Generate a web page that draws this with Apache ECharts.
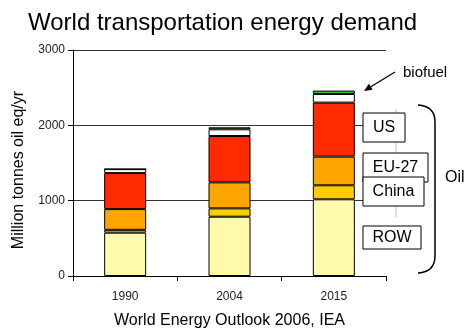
<!DOCTYPE html>
<html>
<head>
<meta charset="utf-8">
<script src="https://cdn.jsdelivr.net/npm/echarts@6/dist/echarts.min.js"></script>
<style>
  html, body { margin: 0; padding: 0; background: #fff; }
  #chart { width: 464px; height: 329px; }
</style>
</head>
<body>
<div id="chart"></div>
<script>
  // data (Mtoe)
  var years = ['1990', '2004', '2015']
  var row = [575, 787, 1018]
  var china = [38, 111, 186]
  var eu27 = [275, 345, 381]
  var us = [478, 615, 717]
  var otherOil = [53, 89, 114]
  var biofuel = [0, 27, 45]
  var yTicks = [0, 1000, 2000, 3000]

  var font = 'Liberation Sans, Arial, sans-serif'
  var chart = echarts.init(document.getElementById('chart'))

  function seg (name, data, color) {
    return {
      name: name,
      type: 'bar',
      stack: 'total',
      barWidth: 42,
      data: data,
      itemStyle: { color: color, borderColor: '#000', borderWidth: 1 }
    }
  }

  // boxes for the region labels
  function box (label, x, y, w, h) {
    return {
      type: 'group',
      z: 20,
      children: [
        { type: 'rect', z: 20, shape: { x: x, y: y, width: w, height: h }, style: { fill: '#fff', stroke: '#000', lineWidth: 1 } },
        { type: 'text', z: 21, x: x + w / 2, y: y + h / 2, style: { text: label, font: '16px ' + font, fill: '#000', align: 'center', verticalAlign: 'middle' } }
      ]
    }
  }

  // arrow pointing at the biofuel slice
  var ax0 = 395, ay0 = 72, ax1 = 364, ay1 = 91
  var dl = Math.sqrt((ax1 - ax0) * (ax1 - ax0) + (ay1 - ay0) * (ay1 - ay0))
  var ux = (ax1 - ax0) / dl, uy = (ay1 - ay0) / dl
  var bx = ax1 - ux * 8, by = ay1 - uy * 8

  var braceStyle = { fill: null, stroke: '#000', lineWidth: 1.5 }

  var option = {
    backgroundColor: '#fff',
    animation: false,
    title: {
      text: 'World transportation energy demand',
      left: 28,
      top: 11,
      padding: 0,
      textStyle: { fontFamily: font, fontSize: 24, fontWeight: 'normal', color: '#000' }
    },
    grid: { left: 73, right: 78, top: 50, bottom: 53, containLabel: false, outerBoundsMode: 'none' },
    xAxis: {
      type: 'category',
      data: years,
      name: 'World Energy Outlook 2006, IEA',
      nameLocation: 'middle',
      nameGap: 37,
      nameTextStyle: { fontFamily: font, fontSize: 16, color: '#000' },
      axisLine: { lineStyle: { color: '#000', width: 1 } },
      axisTick: { show: true, length: 5, lineStyle: { color: '#000' } },
      axisLabel: { margin: 15, fontFamily: font, fontSize: 12, color: '#222' }
    },
    yAxis: {
      type: 'value',
      min: yTicks[0],
      max: yTicks[yTicks.length - 1],
      interval: 1000,
      axisLine: { show: true, lineStyle: { color: '#000', width: 1 } },
      axisTick: { show: true, length: 5, lineStyle: { color: '#000' } },
      axisLabel: { margin: 8, fontFamily: font, fontSize: 12, color: '#222', formatter: function (v) { return String(v) } },
      splitLine: { show: true, lineStyle: { color: '#333', width: 1 } }
    },
    series: [
      seg('ROW', row, '#FFFBAA'),
      seg('China', china, '#FFCC00'),
      seg('EU-27', eu27, '#FFA500'),
      seg('US', us, '#FF2A00'),
      seg('Other', otherOil, '#FFFFFF'),
      seg('Biofuel', biofuel, '#33CC33')
    ],
    graphic: [
      {
        type: 'text', x: 19, y: 170, rotation: Math.PI / 2,
        style: { text: 'Million tonnes oil eq/yr', font: '16px ' + font, fill: '#000', align: 'center', verticalAlign: 'middle' }
      },
      { type: 'line', z: 5, shape: { x1: 396, y1: 109, x2: 396, y2: 217 }, style: { stroke: '#bbb', lineWidth: 1 } },
      box('US', 363, 113, 42, 29),
      box('EU-27', 363, 153, 65, 29),
      box('China', 363, 177, 61, 29),
      box('ROW', 363, 226, 58, 23),
      // the brace round the oil boxes
      { type: 'bezierCurve', z: 20, shape: { x1: 418, y1: 105, cpx1: 435, cpy1: 106, x2: 435, y2: 122 }, style: braceStyle },
      { type: 'line', z: 20, shape: { x1: 435, y1: 122, x2: 435, y2: 256 }, style: braceStyle },
      { type: 'bezierCurve', z: 20, shape: { x1: 435, y1: 256, cpx1: 435, cpy1: 272, x2: 418, y2: 273 }, style: braceStyle },
      { type: 'text', x: 445, y: 178, style: { text: 'Oil', font: '16px ' + font, fill: '#000', verticalAlign: 'middle' } },
      { type: 'line', z: 20, shape: { x1: ax0, y1: ay0, x2: bx, y2: by }, style: { stroke: '#000', lineWidth: 1.3 } },
      {
        type: 'polygon', z: 20,
        shape: { points: [[ax1, ay1], [bx + uy * 3.5, by - ux * 3.5], [bx - uy * 3.5, by + ux * 3.5]] },
        style: { fill: '#000' }
      },
      { type: 'text', x: 403, y: 73, style: { text: 'biofuel', font: '15px ' + font, fill: '#000', verticalAlign: 'middle' } }
    ]
  }
  chart.setOption(option)
</script>
</body>
</html>
